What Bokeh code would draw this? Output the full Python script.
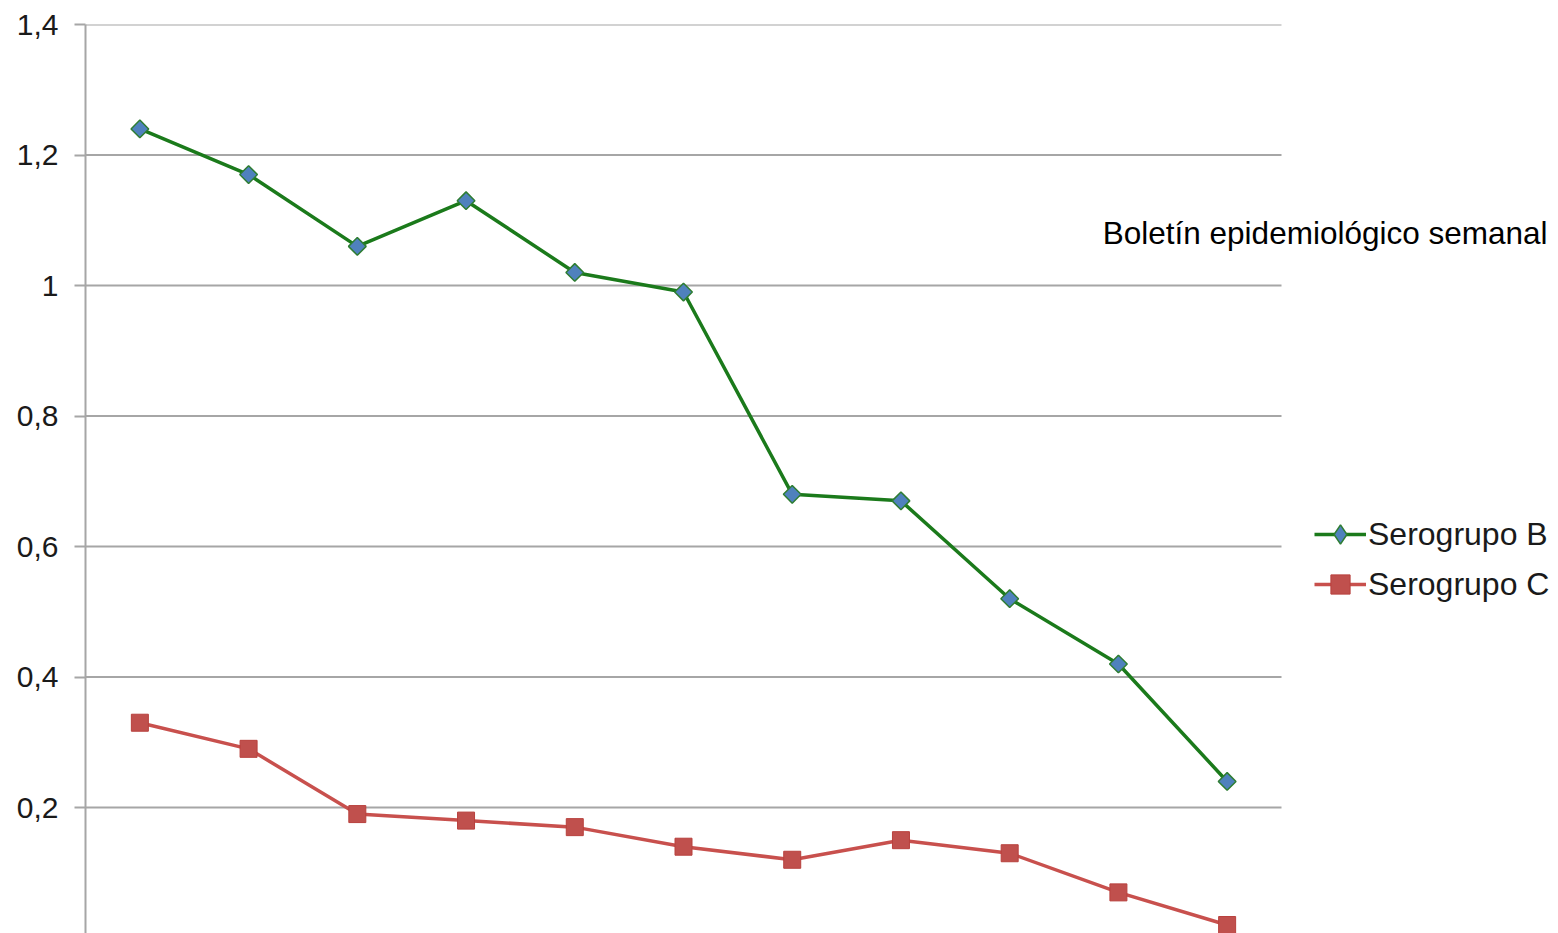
import math
from bokeh.plotting import figure
from bokeh.models import (Range1d, FixedTicker, CustomJSTickFormatter, Legend,
                          LegendItem, Label, ColumnDataSource)
from bokeh.embed import file_html
from bokeh.resources import INLINE

# Incidence per period, meningococcal disease by serogroup
periods = list(range(11))
serogrupo_b = [1.24, 1.17, 1.06, 1.13, 1.02, 0.99, 0.68, 0.67, 0.52, 0.42, 0.24]
serogrupo_c = [0.33, 0.29, 0.19, 0.18, 0.17, 0.14, 0.12, 0.15, 0.13, 0.07, 0.02]
y_ticks = [0, 0.2, 0.4, 0.6, 0.8, 1.0, 1.2, 1.4]

FONT = "Liberation Sans"
GRID = "#a6a6a6"
GREEN = "#1b7a1b"
BLUE = "#4f81bd"
RED = "#c0504d"

# plot area of the series is 1196 px wide; the frame continues to the right
# edge so the side annotations are not clipped
W, LEFT = 1558, 85
SERIES_W = 1196
x_end = -0.5 + len(periods) * (W - LEFT) / SERIES_W

p = figure(width=W, height=933, output_backend="svg", toolbar_location=None,
           x_range=Range1d(-0.5, x_end), y_range=Range1d(0.007, 1.4),
           min_border_left=LEFT, min_border_right=0, min_border_top=24,
           min_border_bottom=0)
p.outline_line_color = None
p.background_fill_color = "white"
p.border_fill_color = "white"

p.xaxis.visible = False
p.xgrid.visible = False
p.ygrid.visible = False

# horizontal gridlines limited to the series area
grid_src = ColumnDataSource(dict(x0=[-0.5] * len(y_ticks),
                                 x1=[len(periods) - 0.5] * len(y_ticks),
                                 y=y_ticks))
p.segment("x0", "y", "x1", "y", source=grid_src, line_color=GRID, line_width=2)

ax = p.yaxis[0]
ax.ticker = FixedTicker(ticks=y_ticks)
ax.formatter = CustomJSTickFormatter(
    code="return tick.toFixed(1).replace(/\\.0$/, '').replace('.', ',');")
ax.axis_line_color = GRID
ax.axis_line_width = 2
ax.major_tick_line_color = GRID
ax.major_tick_line_width = 2
ax.major_tick_out = 11
ax.major_tick_in = 0
ax.minor_tick_line_color = None
ax.major_label_text_font = FONT
ax.major_label_text_font_size = "30px"
ax.major_label_text_color = "#1a1a1a"
ax.major_label_standoff = 16

src = ColumnDataSource(dict(x=periods, b=serogrupo_b, c=serogrupo_c))

lb = p.line("x", "b", source=src, line_color=GREEN, line_width=3.5)
# diamond swatch used by the legend; the rotated squares drawn on top cover it
kb = p.scatter("x", "b", source=src, marker="diamond", size=16, fill_color=BLUE,
               line_color="#2e7d32", line_width=1.5)
mb = p.scatter("x", "b", source=src, marker="square", angle=math.pi / 4,
               size=12.5, fill_color=BLUE, line_color="#2e7d32", line_width=1.5)

lc = p.line("x", "c", source=src, line_color="#c8504d", line_width=3.5)
mc = p.scatter("x", "c", source=src, marker="square", size=17,
               fill_color=RED, line_color="#b8403d", line_width=1)

legend = Legend(items=[LegendItem(label="Serogrupo B", renderers=[lb, kb]),
                       LegendItem(label="Serogrupo C", renderers=[lc, mc])],
                location=(1229, 325), orientation="vertical",
                glyph_width=52, glyph_height=48, label_height=48,
                label_standoff=2, spacing=2, padding=0, margin=0,
                border_line_color=None, background_fill_alpha=0,
                label_text_font=FONT, label_text_font_size="32px",
                label_text_color="#1a1a1a")
p.add_layout(legend)

title = Label(x=8.856, y=1.08, text="Boletín epidemiológico semanal",
              text_font=FONT, text_font_size="31.5px", text_color="black",
              text_baseline="middle", text_align="left")
p.add_layout(title)

open("out.html", "w").write(file_html(p, INLINE))
